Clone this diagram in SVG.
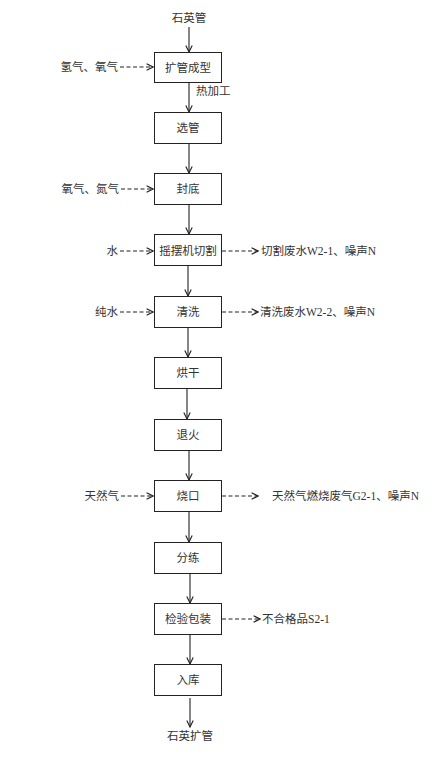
<svg xmlns="http://www.w3.org/2000/svg" width="441" height="760" viewBox="0 0 441 760">
<defs>
<marker id="ah" viewBox="0 0 10 10" refX="9" refY="5" markerWidth="8" markerHeight="8" markerUnits="userSpaceOnUse" orient="auto">
<path d="M1,1 L9,5 L1,9" fill="none" stroke="#222" stroke-width="1.4"/>
</marker>
<style>
.box{fill:#fff;stroke:#222;stroke-width:1}
.t{font-family:"Liberation Serif","Noto Sans CJK SC",serif;font-size:11.5px;fill:#333}
.c{text-anchor:middle}
.e{text-anchor:end}
.s{stroke:#222;stroke-width:1.1;fill:none;marker-end:url(#ah)}
.d{stroke:#222;stroke-width:1.1;fill:none;stroke-dasharray:4,2.5;marker-end:url(#ah)}
</style>
</defs>
<rect width="441" height="760" fill="#fff"/>
<g id="connectors">
<line class="s" x1="189" y1="27" x2="189" y2="52"/>
<line class="s" x1="189" y1="83" x2="189" y2="112"/>
<line class="s" x1="189" y1="144" x2="189" y2="173"/>
<line class="s" x1="189" y1="205" x2="189" y2="234"/>
<line class="s" x1="188" y1="266" x2="188" y2="296"/>
<line class="s" x1="188" y1="328" x2="188" y2="357"/>
<line class="s" x1="187" y1="389" x2="187" y2="419"/>
<line class="s" x1="189" y1="451" x2="189" y2="480"/>
<line class="s" x1="189" y1="512" x2="189" y2="542"/>
<line class="s" x1="190" y1="574" x2="190" y2="603"/>
<line class="s" x1="190" y1="635" x2="190" y2="664"/>
<line class="s" x1="190" y1="698" x2="190" y2="727"/>
<line class="d" x1="120" y1="67" x2="153" y2="67"/>
<line class="d" x1="121" y1="189" x2="153" y2="189"/>
<line class="d" x1="120" y1="251" x2="153" y2="251"/>
<line class="d" x1="120" y1="312" x2="153" y2="312"/>
<line class="d" x1="121" y1="496" x2="153" y2="496"/>
<line class="d" x1="222" y1="251" x2="258" y2="251"/>
<line class="d" x1="222" y1="312" x2="258" y2="312"/>
<line class="d" x1="222" y1="496" x2="258" y2="496"/>
<line class="d" x1="222" y1="619" x2="260" y2="619"/>
<text class="t" x="196" y="95">热加工</text>
</g>
<text class="t c" x="189" y="22">石英管</text>
<text class="t c" x="190" y="740">石英扩管</text>
<g id="n1"><rect class="box" x="154.5" y="52.5" width="67" height="30"/><text class="t c" x="188" y="71.5">扩管成型</text></g>
<g id="n2"><rect class="box" x="154.5" y="112.5" width="67" height="31"/><text class="t c" x="188" y="132">选管</text></g>
<g id="n3"><rect class="box" x="154.5" y="173.5" width="67" height="31"/><text class="t c" x="188" y="193">封底</text></g>
<g id="n4"><rect class="box" x="154.5" y="234.5" width="67" height="31"/><text class="t c" x="188" y="255">摇摆机切割</text></g>
<g id="n5"><rect class="box" x="154.5" y="296.5" width="67" height="31"/><text class="t c" x="188" y="316">清洗</text></g>
<g id="n6"><rect class="box" x="154.5" y="357.5" width="67" height="31"/><text class="t c" x="188" y="377">烘干</text></g>
<g id="n7"><rect class="box" x="154.5" y="419.5" width="67" height="31"/><text class="t c" x="188" y="439">退火</text></g>
<g id="n8"><rect class="box" x="154.5" y="480.5" width="67" height="31"/><text class="t c" x="188" y="500">烧口</text></g>
<g id="n9"><rect class="box" x="154.5" y="542.5" width="67" height="31"/><text class="t c" x="188" y="562">分练</text></g>
<g id="n10"><rect class="box" x="154.5" y="603.5" width="67" height="31"/><text class="t c" x="188" y="623">检验包装</text></g>
<g id="n11"><rect class="box" x="154.5" y="664.5" width="67" height="31"/><text class="t c" x="188" y="684">入库</text></g>
<g id="labels">
<text class="t e" x="118" y="71">氢气、氧气</text>
<text class="t e" x="119" y="193">氧气、氮气</text>
<text class="t e" x="118" y="255">水</text>
<text class="t e" x="118" y="316">纯水</text>
<text class="t e" x="119" y="500">天然气</text>
<text class="t" x="261" y="255">切割废水W2-1、噪声N</text>
<text class="t" x="260" y="316">清洗废水W2-2、噪声N</text>
<text class="t" x="272" y="500">天然气燃烧废气G2-1、噪声N</text>
<text class="t" x="262" y="623">不合格品S2-1</text>
</g>
</svg>
